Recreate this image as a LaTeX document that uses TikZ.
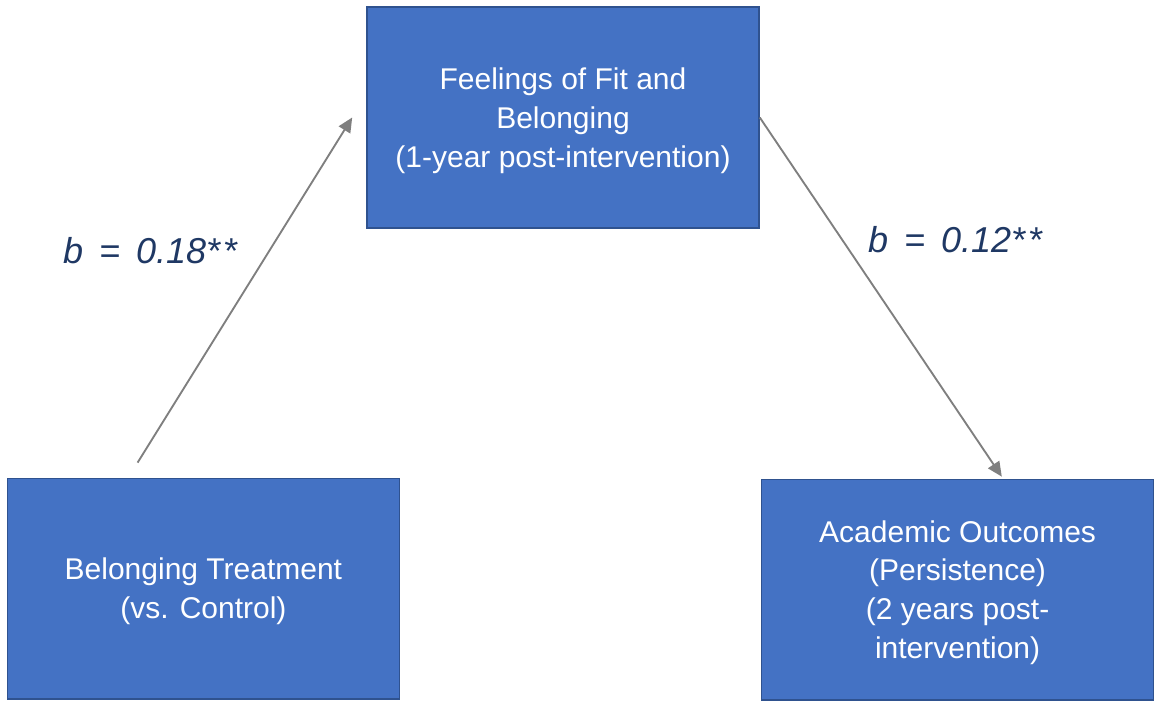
\documentclass[tikz,border=0pt]{standalone}
\usepackage{fontspec}
\setmainfont{Liberation Sans}
\usepackage{tikz}
\usetikzlibrary{positioning}
\usetikzlibrary{arrows.meta}
\definecolor{boxblue}{HTML}{4472C4}
\definecolor{boxedge}{HTML}{2F528F}
\definecolor{labelnavy}{HTML}{1F3864}
\definecolor{arrowgray}{HTML}{7F7F7F}
\tikzset{
  myarrow/.style={
    draw=arrowgray,
    line width=1.4pt,
    -{Triangle[length=11pt,width=10pt]},
  },
  myrectangle/.style={
    draw=boxedge,
    fill=boxblue,
    shape=rectangle,
    line width=1.2pt,
    align=center,
    text=white,
    minimum width=294pt,
    minimum height=165.5pt,
    font=\fontsize{22.5}{29}\selectfont
  },
  mylabel/.style={
    text=labelnavy,
    font=\fontsize{27}{32}\selectfont\itshape
  }
}

\begin{document}
\begin{tikzpicture}[x=0.75pt,y=-0.75pt]
    \useasboundingbox (0,0) rectangle (1154,705);
    \node[myrectangle, text depth=-4.3pt] (feel)  at (563,117.5)                          {Feelings of Fit and\\Belonging\\(1-year post-intervention)};
    \node[myrectangle, text depth=0.5pt]  (treat) [below left=186.75pt and -25.5pt of feel] {Belonging Treatment\\(vs. Control)};
    \node[myrectangle, text depth=0.5pt]  (acad)  [below right=187.5pt and 0.75pt of feel]  {Academic Outcomes\\(Persistence)\\(2 years post-\\intervention)};

    \draw[myarrow] ([xshift=98.25pt,yshift=11.25pt]treat.north west) -- ([xshift=-10.5pt]feel.west);
    \draw[myarrow] (feel.east) -- ([xshift=180.75pt,yshift=1.5pt]acad.north west);

    \node[mylabel] (pathA) at (150,251) {b\,\ =\ \,0.18*\kern2pt*};
    \node[mylabel] (pathB) at (955,240) {b\,\ =\ \,0.12*\kern2pt*};
  \end{tikzpicture}
\end{document}
